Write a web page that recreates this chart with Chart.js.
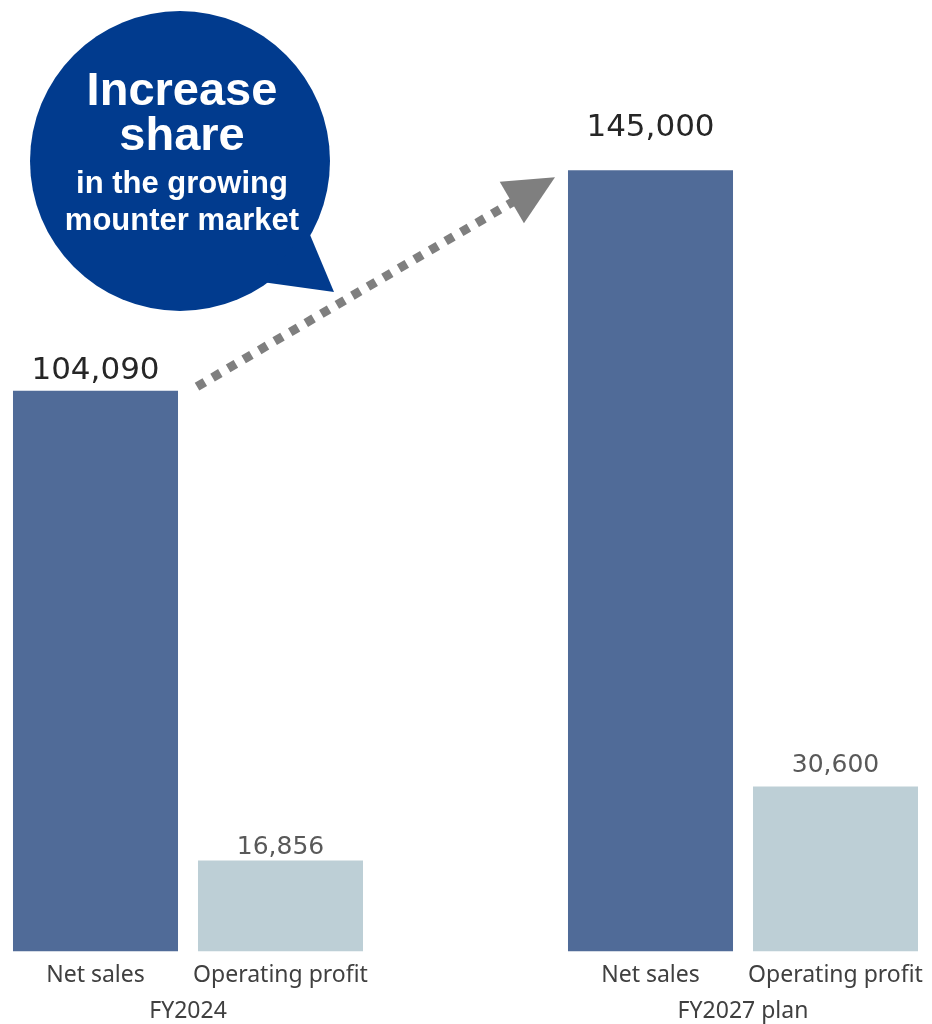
<!DOCTYPE html>
<html>
<head>
<meta charset="utf-8">
<script src="https://cdn.jsdelivr.net/npm/chart.js@4/dist/chart.umd.min.js"></script>
<style>
  html, body { margin: 0; padding: 0; background: #fff; }
  #wrap { width: 932px; height: 1024px; position: relative; }
</style>
</head>
<body>
<div id="wrap"><canvas id="chart"></canvas></div>
<script>
// data
const periods = ["FY2024", "FY2027 plan"];
const measures = ["Net sales", "Operating profit"];
const netSales = [104090, 145000];
const operatingProfit = [16856, 30600];

// 5 slots: two bars, empty gap, two bars
const labels = [measures[0], measures[1], "", measures[0], measures[1]];
const values = [netSales[0], operatingProfit[0], null, netSales[1], operatingProfit[1]];

const navy = "#506B98";
const light = "#BDCFD6";

// value labels above each bar
const valueLabels = {
  id: "valueLabels",
  afterDatasetsDraw(chart) {
    const ctx = chart.ctx;
    const meta = chart.getDatasetMeta(0);
    const gaps = [12, 7, 0, 34, 15];
    ctx.save();
    ctx.textAlign = "center";
    ctx.textBaseline = "alphabetic";
    meta.data.forEach((bar, i) => {
      const v = values[i];
      if (v == null) return;
      const big = labels[i] === measures[0];
      ctx.font = big ? "31px 'DejaVu Sans'" : "25px 'DejaVu Sans'";
      ctx.fillStyle = big ? "#262626" : "#595959";
      ctx.fillText(v.toLocaleString("en-US"), bar.x, bar.y - gaps[i]);
    });
    ctx.restore();
  }
};

// FY group labels under the category ticks
const groupLabels = {
  id: "groupLabels",
  afterDraw(chart) {
    const ctx = chart.ctx;
    const x = chart.scales.x;
    ctx.save();
    ctx.font = "23px 'Noto Sans'";
    ctx.fillStyle = "#404040";
    ctx.textAlign = "center";
    ctx.textBaseline = "alphabetic";
    const g1 = (x.getPixelForValue(0) + x.getPixelForValue(1)) / 2;
    const g2 = (x.getPixelForValue(3) + x.getPixelForValue(4)) / 2;
    ctx.fillText(periods[0], g1, 1018);
    ctx.fillText(periods[1], g2, 1018);
    ctx.restore();
  }
};

// speech bubble + dotted arrow
const callout = {
  id: "callout",
  afterDatasetsDraw(chart) {
    const ctx = chart.ctx;
    const meta = chart.getDatasetMeta(0);
    const b0 = meta.data[0], b3 = meta.data[3];
    ctx.save();

    // dotted arrow from FY2024 net sales to FY2027 net sales
    const sx = b0.x + b0.width / 2 + 19, sy = b0.y - 4;
    const tipX = b3.x - b3.width / 2 - 13, tipY = b3.y + 7;
    const ang = Math.atan2(tipY - sy, tipX - sx);
    const headLen = 50;
    const ex = tipX - Math.cos(ang) * (headLen - 8), ey = tipY - Math.sin(ang) * (headLen - 8);
    ctx.strokeStyle = "#7F7F7F";
    ctx.lineWidth = 9;
    ctx.setLineDash([9, 9]);
    ctx.beginPath();
    ctx.moveTo(sx, sy);
    ctx.lineTo(ex, ey);
    ctx.stroke();
    ctx.setLineDash([]);
    const bx = tipX - Math.cos(ang) * headLen, by = tipY - Math.sin(ang) * headLen;
    const px = -Math.sin(ang) * 24, py = Math.cos(ang) * 24;
    ctx.fillStyle = "#7F7F7F";
    ctx.beginPath();
    ctx.moveTo(tipX, tipY);
    ctx.lineTo(bx + px, by + py);
    ctx.lineTo(bx - px, by - py);
    ctx.closePath();
    ctx.fill();

    // bubble
    ctx.fillStyle = "#013B8E";
    ctx.beginPath();
    ctx.arc(180, 161, 150, 0, Math.PI * 2);
    ctx.fill();
    ctx.beginPath();
    ctx.moveTo(308, 230);
    ctx.lineTo(334, 292);
    ctx.lineTo(262, 282);
    ctx.closePath();
    ctx.fill();

    ctx.fillStyle = "#fff";
    ctx.textAlign = "center";
    ctx.font = "bold 47px 'Liberation Sans', Arial, sans-serif";
    ctx.fillText("Increase", 182, 105);
    ctx.fillText("share", 182, 150);
    ctx.font = "bold 31px 'Liberation Sans', Arial, sans-serif";
    ctx.fillText("in the growing", 182, 193);
    ctx.fillText("mounter market", 182, 230);
    ctx.restore();
  }
};

new Chart(document.getElementById("chart"), {
  type: "bar",
  data: {
    labels: labels,
    datasets: [{
      data: values,
      backgroundColor: labels.map(l => l === measures[0] ? navy : light),
      barPercentage: 0.892,
      categoryPercentage: 1.0,
      borderWidth: 0
    }]
  },
  options: {
    responsive: true,
    maintainAspectRatio: false,
    animation: false,
    layout: { padding: { left: 3, right: 4, top: 0, bottom: 33 } },
    plugins: {
      legend: { display: false },
      tooltip: { enabled: false }
    },
    scales: {
      x: {
        grid: { display: false },
        border: { display: false },
        ticks: {
          color: "#404040",
          font: { family: "'Noto Sans'", size: 23 },
          padding: 2,
          maxRotation: 0,
          autoSkip: false
        }
      },
      y: {
        display: false,
        min: 0,
        max: 176600
      }
    }
  },
  plugins: [valueLabels, callout, groupLabels]
});
</script>
</body>
</html>
